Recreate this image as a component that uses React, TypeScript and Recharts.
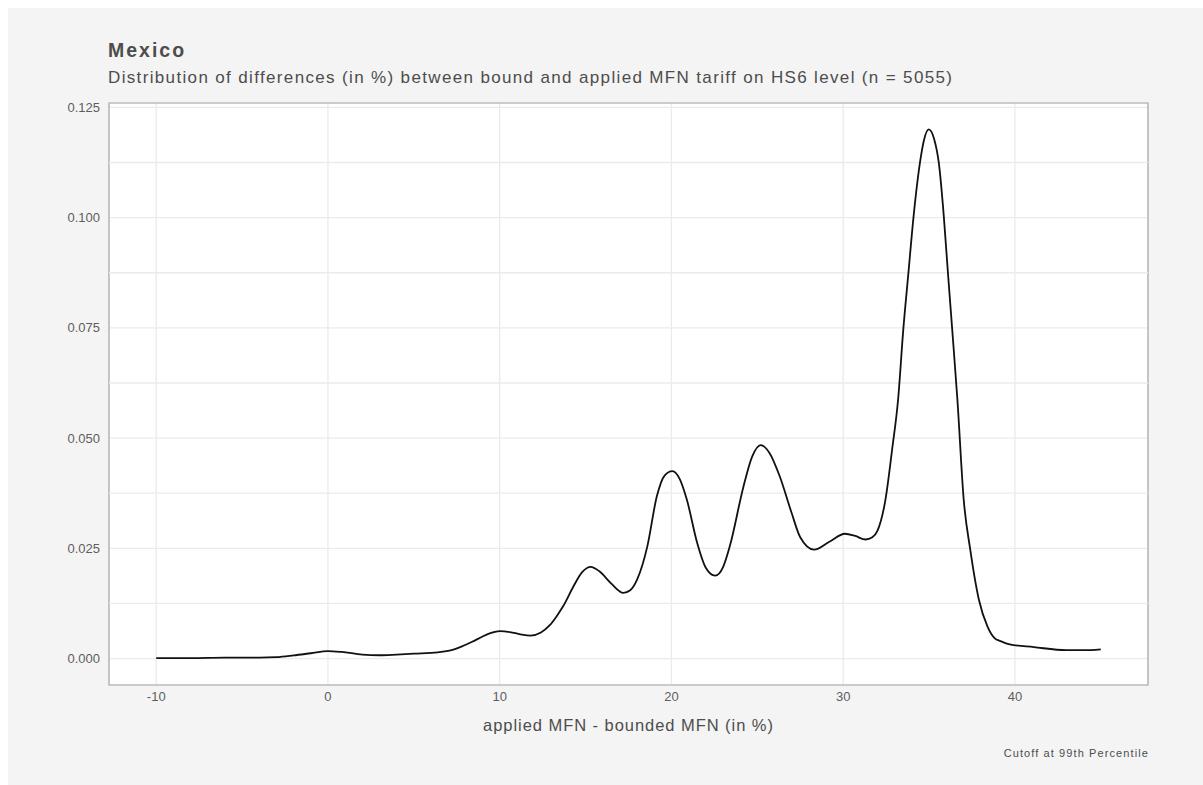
import { LineChart, Line, XAxis, YAxis, CartesianGrid, ReferenceLine, ReferenceArea } from 'recharts'

// density estimate (x in %, y = density)
const diffPct = [
  -10, -8, -6, -4, -3, -2, -1, 0, 0.8, 2, 3, 4, 5, 6.4, 7.2, 7.7, 8.4, 9, 9.5, 10,
  10.6, 11.2, 11.8, 12.4, 12.9, 13.3, 13.7, 14.3, 14.8, 15.3, 15.8, 16.5, 17.2, 17.6, 18,
  18.6, 19.15, 19.6, 20.05, 20.5, 20.9, 21.5, 22, 22.55, 23, 23.4, 24.2, 24.7, 25.2, 25.7,
  26.3, 27, 27.5, 28.3, 29.2, 30.1, 30.7, 31.3, 31.7, 32, 32.46, 32.85, 33.2, 33.5, 33.8,
  34.1, 34.5, 34.7, 34.98, 35.3, 35.57, 35.86, 36.1, 36.35, 36.65, 37.02, 37.4, 37.9, 38.4,
  38.8, 39.2, 39.7, 41.1, 43, 44, 45,
]
const density = [
  0.0001, 0.0001, 0.0002, 0.0002, 0.0003, 0.0007, 0.0012, 0.0017, 0.0015, 0.0009, 0.00075,
  0.0009, 0.0011, 0.0014, 0.0019, 0.0026, 0.0038, 0.005, 0.0058, 0.0062,
  0.006, 0.0055, 0.0052, 0.0059, 0.0075, 0.0095, 0.0119, 0.0164, 0.0196, 0.0208, 0.0198,
  0.017, 0.0149, 0.0155, 0.0179,
  0.0255, 0.0368, 0.0415, 0.0425, 0.0406, 0.036, 0.0262, 0.0206, 0.0188, 0.0207, 0.0255,
  0.0391, 0.0458, 0.0484, 0.0467,
  0.0414, 0.033, 0.0275, 0.0247, 0.0265, 0.0283, 0.0278, 0.027, 0.0275, 0.029, 0.036,
  0.0474, 0.0588, 0.0746, 0.0875,
  0.1003, 0.1132, 0.1175, 0.12, 0.1178, 0.1124, 0.1003, 0.0875, 0.0746, 0.0588, 0.036,
  0.0247, 0.0134, 0.0073,
  0.0047, 0.0039, 0.0032, 0.0026, 0.0019, 0.0019, 0.0021,
]

const xTicks = [-10, 0, 10, 20, 30, 40]
const yTicks = [0, 0.025, 0.05, 0.075, 0.1, 0.125]
const yMinor = [0.0125, 0.0375, 0.0625, 0.0875, 0.1125]

const X_DOMAIN: [number, number] = [-12.75, 47.75]
const Y_DOMAIN: [number, number] = [-0.006, 0.126]

const chartData = diffPct.map((x, i) => ({ x, y: density[i] }))

const FONT = '"Liberation Sans", Arial, Helvetica, sans-serif'

export default function App() {
  return (
    <div
      style={{
        position: 'absolute',
        left: 8,
        top: 8,
        width: 1195,
        height: 777,
        background: '#f4f4f4',
        fontFamily: FONT,
        overflow: 'hidden',
      }}
    >
      <div style={{ position: 'absolute', left: 100, top: 33, fontSize: 19.5, lineHeight: '19.5px', fontWeight: 'bold', color: '#4d4d4d', letterSpacing: 2 }}>
        Mexico
      </div>
      <div style={{ position: 'absolute', left: 100, top: 60.5, fontSize: 17, lineHeight: '17px', color: '#4d4d4d', whiteSpace: 'nowrap', letterSpacing: 1.35 }}>
        Distribution of differences (in %) between bound and applied MFN tariff on HS6 level (n = 5055)
      </div>

      <LineChart
        width={1195}
        height={777}
        data={chartData}
        margin={{ top: 95, right: 55, left: 0, bottom: 70 }}
        style={{ position: 'absolute', left: 0, top: 0 }}
      >
        <CartesianGrid fill="#ffffff" stroke="#ebebeb" strokeWidth={1.3} />
        {yMinor.map((v) => (
          <ReferenceLine key={v} y={v} stroke="#ebebeb" strokeWidth={1.3} />
        ))}
        <XAxis
          dataKey="x"
          type="number"
          domain={X_DOMAIN}
          ticks={xTicks}
          allowDataOverflow
          tickLine={false}
          axisLine={false}
          tickSize={0}
          tickMargin={7}
          height={30}
          tick={{ fontSize: 13, fill: '#5e5e5e', fontFamily: FONT }}
          label={{
            value: 'applied MFN - bounded MFN (in %)',
            position: 'bottom',
            offset: 4,
            style: { fontSize: 16.5, fill: '#4d4d4d', fontFamily: FONT, letterSpacing: 0.95 },
          }}
        />
        <YAxis
          type="number"
          domain={Y_DOMAIN}
          ticks={yTicks}
          allowDataOverflow
          tickLine={false}
          axisLine={false}
          tickSize={0}
          tickMargin={9}
          width={101}
          tickFormatter={(v: number) => v.toFixed(3)}
          tick={{ fontSize: 13, fill: '#5e5e5e', fontFamily: FONT }}
        />
        <ReferenceArea
          x1={X_DOMAIN[0]}
          x2={X_DOMAIN[1]}
          y1={Y_DOMAIN[0]}
          y2={Y_DOMAIN[1]}
          fill="none"
          fillOpacity={0}
          stroke="#a8a8a8"
          strokeWidth={1.2}
        />
        <Line
          type="monotone"
          dataKey="y"
          stroke="#111111"
          strokeWidth={1.8}
          dot={false}
          activeDot={false}
          isAnimationActive={false}
        />
      </LineChart>

      <div style={{ position: 'absolute', right: 54, top: 739.5, fontSize: 11, lineHeight: '11px', color: '#4d4d4d', whiteSpace: 'nowrap', letterSpacing: 1.1 }}>
        Cutoff at 99th Percentile
      </div>
    </div>
  )
}
